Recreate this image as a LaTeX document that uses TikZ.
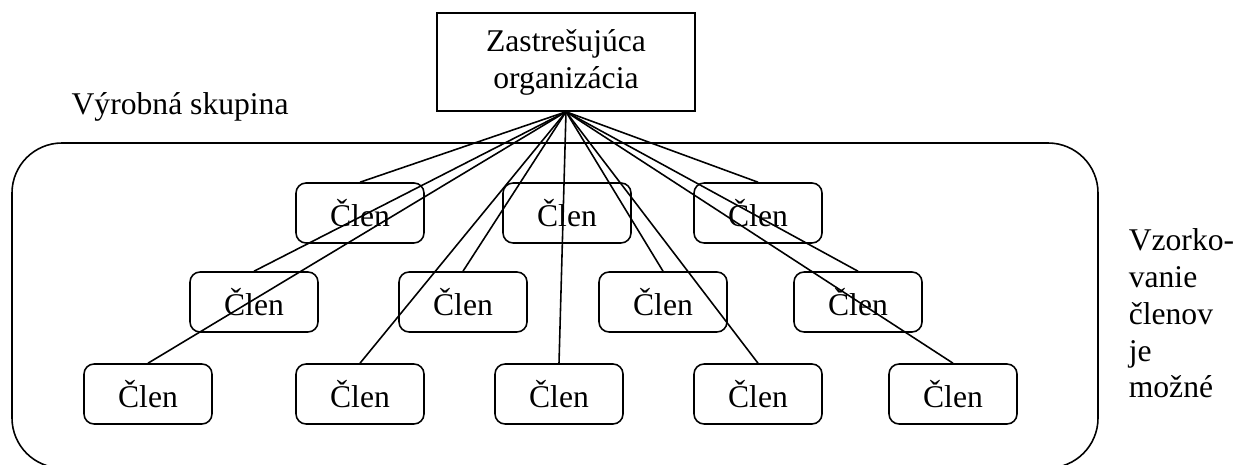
\documentclass[tikz,border=0pt]{standalone}
\usepackage{fontspec}
\setmainfont{Liberation Serif}
\usepackage{tikz}

\tikzset{
	clen/.style={draw, rounded corners=0.2cm, minimum width=2.56cm, minimum height=1.2cm, inner sep=0pt},
	orgbox/.style={draw, align=center, minimum width=5.16cm, minimum height=1.96cm}
}

\begin{document}
\begin{tikzpicture}[x=0.02cm, y=-0.02cm, line width=0.9pt, font=\fontsize{18}{21}\selectfont]
	\useasboundingbox (0, 0) rectangle (1236, 465);

	% group outline
	\draw[rounded corners=1cm] (12, 143) rectangle (1098, 468);
	\node[anchor=base west] (group) at (65, 115) {Výrobná skupina};

	\node[orgbox] (org) at (566, 62) {Zastrešujúca\\organizácia};

	% members
	\node[clen] (c11) at (360, 213) {Člen};
	\node[clen] (c12) at (567, 213) {Člen};
	\node[clen] (c13) at (758, 213) {Člen};

	\node[clen] (c21) at (254, 302) {Člen};
	\node[clen] (c22) at (463, 302) {Člen};
	\node[clen] (c23) at (663, 302) {Člen};
	\node[clen] (c24) at (858, 302) {Člen};

	\node[clen] (c31) at (148, 394) {Člen};
	\node[clen] (c32) at (360, 394) {Člen};
	\node[clen] (c33) at (559, 394) {Člen};
	\node[clen] (c34) at (758, 394) {Člen};
	\node[clen] (c35) at (953, 394) {Člen};

	\foreach \m in {c11, c13, c21, c22, c23, c24, c31, c32, c33, c34, c35}
		\draw (org.south) -- (\m.north);

	% last baseline is the node's base
	\node[anchor=base west, align=left, inner xsep=0pt] (note) at (1128, 398) {Vzorko-\\vanie\\členov\\je\\možné};
\end{tikzpicture}
\end{document}
